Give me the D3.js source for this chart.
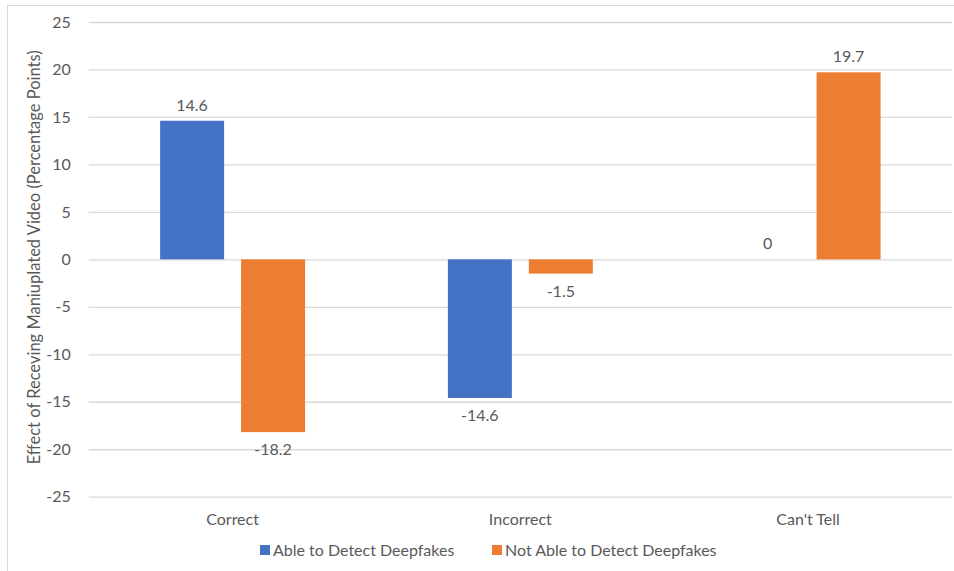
<!DOCTYPE html>
<html>
<head>
<meta charset="utf-8">
<script src="https://cdn.jsdelivr.net/npm/d3@7"></script>
<style>
  html, body { margin: 0; padding: 0; background: #fff; }
  svg { display: block; }
  text { font-family: Lato, "Open Sans", sans-serif; fill: #595959; }
</style>
</head>
<body>
<svg id="chart" width="954" height="571"></svg>
<script>
// Chart data
const categories = ["Correct", "Incorrect", "Can't Tell"];
const seriesNames = ["Able to Detect Deepfakes", "Not Able to Detect Deepfakes"];
const ableValues = [14.6, -14.6, 0];
const notAbleValues = [-18.2, -1.5, 19.7];
const yTicks = [25, 20, 15, 10, 5, 0, -5, -10, -15, -20, -25];
const seriesColors = ["#4472C4", "#ED7D31"];
const yTitle = "Effect of Receving Maniuplated Video (Percentage Points)";

const W = 954, H = 571;
const margin = { left: 88.7, right: 2, top: 22, bottom: 74 };
const svg = d3.select("#chart");

// Outer frame
svg.append("rect")
  .attr("x", 7.5).attr("y", 5.5)
  .attr("width", W + 10).attr("height", H + 10)
  .attr("fill", "none").attr("stroke", "#D9D9D9").attr("stroke-width", 1);

const x0 = d3.scaleBand().domain(categories)
  .range([margin.left, W - margin.right]).paddingInner(0).paddingOuter(0);
const y = d3.scaleLinear().domain([-25, 25]).range([H - margin.bottom - 0.3, margin.top]);

// Bar geometry within each category
const bw = x0.bandwidth();
const barW = bw * 0.2223;
const innerGap = bw * 0.059;
const groupW = barW * 2 + innerGap;
const barX = (cat, si) => x0(cat) + (bw - groupW) / 2 + si * (barW + innerGap);

// Plain hyphen for negative numbers
const fmt = v => String(v);

// Gridlines and y tick labels
const yAxis = d3.axisLeft(y).tickValues(yTicks).tickSize(-(W - margin.right - margin.left))
  .tickPadding(18).tickFormat(fmt);
const gy = svg.append("g").attr("transform", `translate(${margin.left},0)`).call(yAxis);
gy.select(".domain").remove();
gy.selectAll(".tick line").attr("stroke", "#D9D9D9").attr("stroke-width", 1.3);
gy.selectAll(".tick text").attr("font-size", 16).attr("fill", "#595959")
  .style("font-family", "Lato, sans-serif");

// Y axis title
svg.append("text")
  .attr("transform", `translate(40,${y(0) - 2}) rotate(-90)`)
  .attr("text-anchor", "middle")
  .attr("font-size", 16.5)
  .text(yTitle);

// Category labels
svg.selectAll("text.cat").data(categories).join("text")
  .attr("class", "cat")
  .attr("x", d => x0(d) + bw / 2)
  .attr("y", 525)
  .attr("text-anchor", "middle")
  .attr("font-size", 16)
  .text(d => d);

// Bars
const series = [ableValues, notAbleValues];
series.forEach((vals, si) => {
  const rows = categories.map((c, i) => ({ c, v: vals[i] }));
  svg.append("g").selectAll("rect").data(rows).join("rect")
    .attr("x", d => barX(d.c, si))
    .attr("y", d => y(Math.max(0, d.v)))
    .attr("width", barW)
    .attr("height", d => Math.abs(y(d.v) - y(0)))
    .attr("fill", seriesColors[si]);

  // Value labels
  svg.append("g").selectAll("text").data(rows).join("text")
    .attr("x", d => barX(d.c, si) + barW / 2)
    .attr("y", d => d.v >= 0 ? y(d.v) - 10 : y(d.v) + 23)
    .attr("text-anchor", "middle")
    .attr("font-size", 16)
    .text(d => fmt(d.v));
});

// Legend
const legendItems = [
  { name: seriesNames[0], color: seriesColors[0], x: 260 },
  { name: seriesNames[1], color: seriesColors[1], x: 492 }
];
const lg = svg.append("g");
legendItems.forEach(it => {
  lg.append("rect").attr("x", it.x).attr("y", 545).attr("width", 10).attr("height", 10)
    .attr("fill", it.color);
  lg.append("text").attr("x", it.x + 13).attr("y", 556)
    .attr("font-size", 16).text(it.name);
});
</script>
</body>
</html>
